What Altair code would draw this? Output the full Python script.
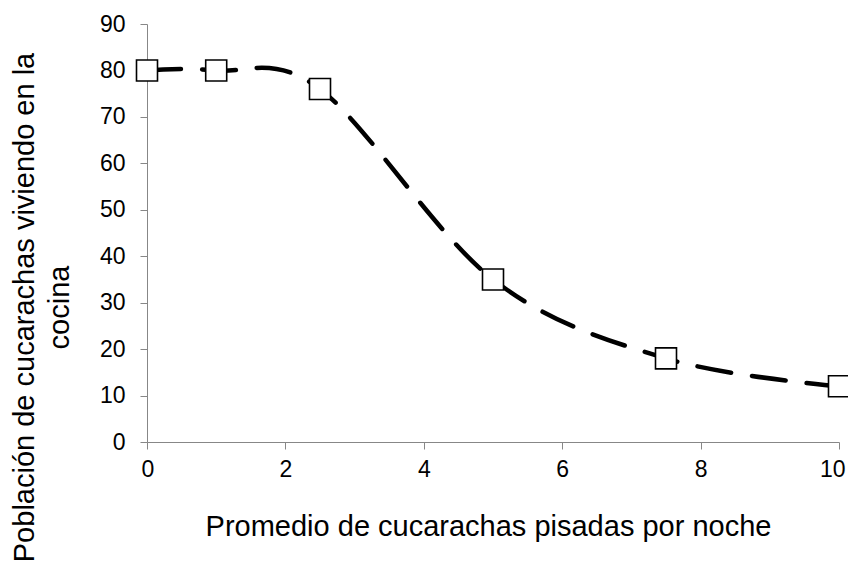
import altair as alt
import pandas as pd

x_vals = [0, 1, 2.5, 5, 7.5, 10]
y_vals = [80, 80, 76, 35, 18, 12]
x_ticks = [0, 2, 4, 6, 8, 10]
y_ticks = [0, 10, 20, 30, 40, 50, 60, 70, 80, 90]

df = pd.DataFrame({"x": x_vals, "y": y_vals})

FONT = "Liberation Sans"
AX = "#878787"

x_enc = alt.X("x:Q", scale=alt.Scale(domain=[0, 10], nice=False),
              axis=alt.Axis(values=x_ticks, title="Promedio de cucarachas pisadas por noche",
                            grid=False, domainColor=AX, tickColor=AX, tickSize=7,
                            labelFontSize=23, labelFont=FONT, labelColor="black",
                            labelPadding=9, labelFlush=True, labelFlushOffset=6,
                            titleFont=FONT, titleFontSize=29, titleFontWeight="normal",
                            titleColor="black", titleBaseline="alphabetic",
                            titleX=341, titleY=93, titleAnchor="middle", titleAlign="center"))
y_enc = alt.Y("y:Q", scale=alt.Scale(domain=[0, 90], nice=False),
              axis=alt.Axis(values=y_ticks, title=["Población de cucarachas viviendo en la", "cocina"],
                            grid=False, domainColor=AX, tickColor=AX, tickSize=7,
                            labelFontSize=23, labelFont=FONT, labelColor="black",
                            labelPadding=15, labelFlush=False,
                            titleFont=FONT, titleFontSize=29, titleFontWeight="normal",
                            titleColor="black", titleAngle=270, titleBaseline="alphabetic",
                            titleLineHeight=35, titleX=-114, titleY=283, titleAlign="center"))

line = alt.Chart(df).mark_line(interpolate="cardinal", color="black", strokeWidth=4.5,
                               strokeDash=[34, 21], strokeCap="round").encode(x=x_enc, y=y_enc)
pts = alt.Chart(df).mark_point(shape="square", size=441, filled=True, fill="white",
                               stroke="black", strokeWidth=1.6, opacity=1).encode(x=x_enc, y=y_enc)

chart = (line + pts).properties(
    width=692, height=418,
    autosize=alt.AutoSizeParams(type="none"),
    padding={"left": 139, "top": 16, "right": 9, "bottom": 121},
    background="white",
).configure_view(stroke=None)

chart.save("out.html", embed_options={"renderer": "svg", "actions": False})
